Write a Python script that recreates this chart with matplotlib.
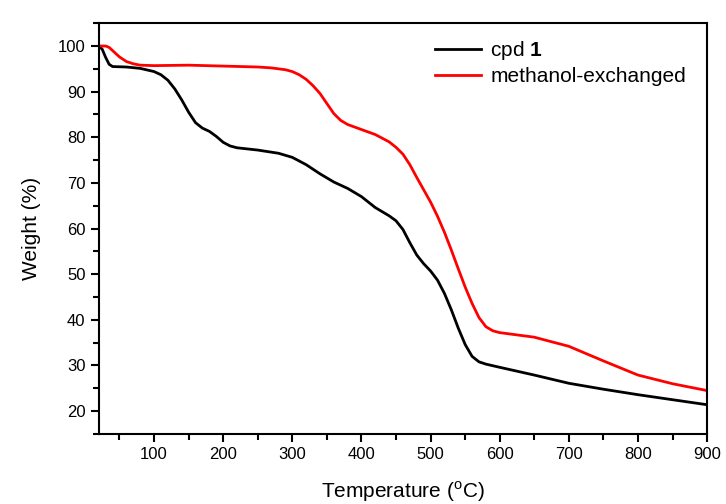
import matplotlib
matplotlib.use('Agg')
import matplotlib.pyplot as plt
from matplotlib.ticker import MultipleLocator

plt.rcParams['font.family'] = ['Liberation Sans', 'DejaVu Sans']
plt.rcParams['mathtext.fontset'] = 'custom'
plt.rcParams['mathtext.rm'] = 'Liberation Sans'
plt.rcParams['mathtext.bf'] = 'Liberation Sans:bold'

# TGA curves
temp_cpd = [20, 25, 30, 35, 40, 60, 80, 100, 110, 120, 130, 140, 150, 160, 170, 180, 190,
            200, 210, 220, 250, 280, 300, 320, 340, 360, 380, 400, 420, 440, 450, 460,
            470, 480, 490, 500, 510, 520, 530, 540, 550, 560, 570, 580, 600, 650, 700,
            750, 800, 850, 900]
weight_cpd = [100, 99.3, 97.5, 96.0, 95.5, 95.4, 95.1, 94.4, 93.7, 92.5, 90.6, 88.2, 85.5,
              83.2, 82.0, 81.3, 80.2, 78.9, 78.1, 77.7, 77.2, 76.5, 75.6, 74.0, 72.0, 70.2,
              68.8, 67.0, 64.6, 62.8, 61.7, 59.8, 56.9, 54.2, 52.3, 50.7, 48.7, 45.8, 42.2,
              38.2, 34.6, 32.0, 30.8, 30.3, 29.6, 27.9, 26.1, 24.8, 23.6, 22.5, 21.4]

temp_meoh = [20, 30, 35, 40, 50, 60, 70, 80, 100, 150, 200, 250, 270, 290, 300, 310, 320,
             330, 340, 350, 360, 370, 380, 400, 420, 440, 450, 460, 470, 480, 490, 500,
             510, 520, 530, 540, 550, 560, 570, 580, 590, 600, 650, 700, 750, 800, 850, 900]
weight_meoh = [100, 100, 99.7, 99.0, 97.6, 96.6, 96.1, 95.8, 95.7, 95.8, 95.6, 95.4, 95.2,
               94.8, 94.4, 93.7, 92.7, 91.3, 89.6, 87.4, 85.2, 83.7, 82.8, 81.7, 80.6, 79.0,
               77.8, 76.3, 74.0, 71.2, 68.5, 65.8, 62.7, 59.2, 55.3, 51.2, 47.2, 43.6, 40.5,
               38.5, 37.6, 37.2, 36.2, 34.2, 31.0, 27.9, 26.0, 24.5]

fig = plt.figure(figsize=(7.26, 5.04), dpi=100)
ax = fig.add_axes([0.136, 0.139, 0.838, 0.815])

ax.plot(temp_cpd, weight_cpd, color='black', lw=2, label=r'cpd $\mathbf{1}$')
ax.plot(temp_meoh, weight_meoh, color='#ff0000', lw=2, label='methanol-exchanged')

ax.set_xlim(20, 900)
ax.set_ylim(15, 105)
ax.xaxis.set_major_locator(MultipleLocator(100))
ax.xaxis.set_minor_locator(MultipleLocator(50))
ax.yaxis.set_major_locator(MultipleLocator(10))
ax.yaxis.set_minor_locator(MultipleLocator(5))
ax.tick_params(which='major', direction='out', length=6, width=1.5, labelsize=12)
ax.tick_params(which='minor', direction='out', length=4, width=1.5)
for s in ax.spines.values():
    s.set_linewidth(1.5)

ax.set_xlabel(r'Temperature ($^{\rm o}$C)', fontsize=15, labelpad=12)
ax.set_ylabel('Weight (%)', fontsize=15, labelpad=12)

ax.legend(loc='upper left', bbox_to_anchor=(0.552, 0.962), frameon=False, fontsize=15,
          borderpad=0, borderaxespad=0, handlelength=2.25, handletextpad=0.43,
          labelspacing=0.25)

fig.savefig('out.png', dpi=100)
